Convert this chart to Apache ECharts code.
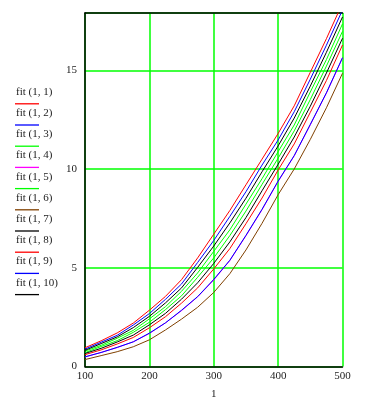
<!DOCTYPE html>
<html>
<head>
<meta charset="utf-8">
<script src="https://cdn.jsdelivr.net/npm/echarts@6/dist/echarts.min.js"></script>
<style>html,body{margin:0;padding:0;background:#fff;}#c{width:367px;height:398px;}</style>
</head>
<body>
<div id="c"></div>
<script>
var xValues = [100,125,150,175,200,225,250,275,300,325,350,375,400,425,450,475,500];
var seriesNames = ['fit (1, 1)','fit (1, 2)','fit (1, 3)','fit (1, 4)','fit (1, 5)','fit (1, 6)','fit (1, 7)','fit (1, 8)','fit (1, 9)','fit (1, 10)'];
var seriesColors = ['#ff0000','#0000ff','#00ff00','#ff00ff','#00ff00','#804000','#000000','#ff0000','#0000ff','#000000'];
var fit1 = [0.95,1.3,1.7,2.2,2.85,3.55,4.4,5.5,6.7,7.9,9.2,10.5,11.8,13.2,14.9,16.6,18.4];
var fit2 = [0.88,1.23,1.58,2.1,2.68,3.4,4.18,5.27,6.38,7.6,8.85,10.2,11.47,12.9,14.55,16.27,18.05];
var fit3 = [0.78,1.07,1.43,1.83,2.41,3.03,3.81,4.74,5.83,6.92,8.22,9.51,10.88,12.23,13.9,15.54,17.35];
var fit4 = [0.48,0.71,0.96,1.25,1.67,2.21,2.83,3.53,4.38,5.37,6.62,7.94,9.37,10.67,12.24,13.84,15.62];
var fit5 = [0.7,1.01,1.31,1.73,2.24,2.88,3.58,4.52,5.5,6.63,7.87,9.22,10.55,11.93,13.52,15.21,16.97];
var fit6 = [0.35,0.55,0.75,1.0,1.35,1.85,2.4,3.0,3.75,4.7,5.9,7.25,8.7,10.0,11.5,13.1,14.85];
var fit7 = [0.82,1.16,1.5,1.97,2.54,3.22,3.98,5.02,6.1,7.27,8.52,9.86,11.17,12.58,14.2,15.91,17.7];
var fit8 = [0.6,0.84,1.14,1.47,1.96,2.52,3.21,3.98,4.94,5.97,7.23,8.53,9.95,11.27,12.87,14.48,16.28];
var fit9 = [0.49,0.71,0.97,1.25,1.69,2.21,2.85,3.54,4.41,5.38,6.64,7.96,9.39,10.68,12.26,13.86,15.64];
var fit10 = [0.66,0.92,1.24,1.59,2.11,2.69,3.41,4.24,5.22,6.31,7.54,8.9,10.24,11.62,13.18,14.86,16.62];
var allData = [fit1,fit2,fit3,fit4,fit5,fit6,fit7,fit8,fit9,fit10];
var xTicks = [100,200,300,400,500];
var yTicks = [0,5,10,15];

var chart = echarts.init(document.getElementById('c'), null, {renderer:'canvas'});
var font = '"Liberation Serif", "DejaVu Serif", serif';
var series = allData.map(function(d, i){
  return {
    name: seriesNames[i], type:'line', showSymbol:false, symbol:'none',
    data: d.map(function(v, j){ return [xValues[j], v]; }),
    lineStyle:{color:seriesColors[i], width:1}, itemStyle:{color:seriesColors[i]},
    z: 3 + i, clip:true, animation:false
  };
});
var graphics = [];
seriesNames.forEach(function(n, i){
  var y0 = 86.5 + i*21.2;
  graphics.push({type:'text', left:16, top:y0, style:{text:n, font:'11px ' + font, fill:'#222'}});
  graphics.push({type:'line', shape:{x1:15, y1:y0+17.3, x2:39, y2:y0+17.3}, style:{stroke:seriesColors[i], lineWidth:1.3}});
});
chart.setOption({
  animation:false,
  backgroundColor:'#fff',
  grid:{left:85, right:24.5, top:13, bottom:31.5, show:false, outerBoundsMode:'none', containLabel:false},
  xAxis:[{
    type:'value', min:100, max:500, interval:100,
    name:'1', nameLocation:'middle', nameGap:22,
    nameTextStyle:{fontFamily:font, fontSize:11, color:'#222'},
    axisLine:{show:true, lineStyle:{color:'#000', width:1.5}},
    axisTick:{show:false},
    axisLabel:{fontFamily:font, fontSize:11, color:'#222', margin:4,
      formatter:function(v){ return xTicks.indexOf(v) >= 0 ? String(v) : ''; }},
    splitLine:{show:true, lineStyle:{color:'#00ff00', width:1.5}}
  },{
    type:'value', position:'top', min:100, max:500, interval:100,
    axisLine:{show:true, lineStyle:{color:'#000', width:1.5}},
    axisTick:{show:false}, axisLabel:{show:false}, splitLine:{show:false}
  }],
  yAxis:{
    type:'value', min:0, max:17.9, interval:5,
    axisLine:{show:true, lineStyle:{color:'#000', width:1.5}},
    axisTick:{show:false},
    axisLabel:{fontFamily:font, fontSize:11, color:'#222', margin:8, showMaxLabel:false,
      formatter:function(v){ return yTicks.indexOf(v) >= 0 ? String(v) : ''; }},
    splitLine:{show:true, lineStyle:{color:'#00ff00', width:1.5}}
  },
  series: series,
  graphic: graphics
});
</script>
</body>
</html>
